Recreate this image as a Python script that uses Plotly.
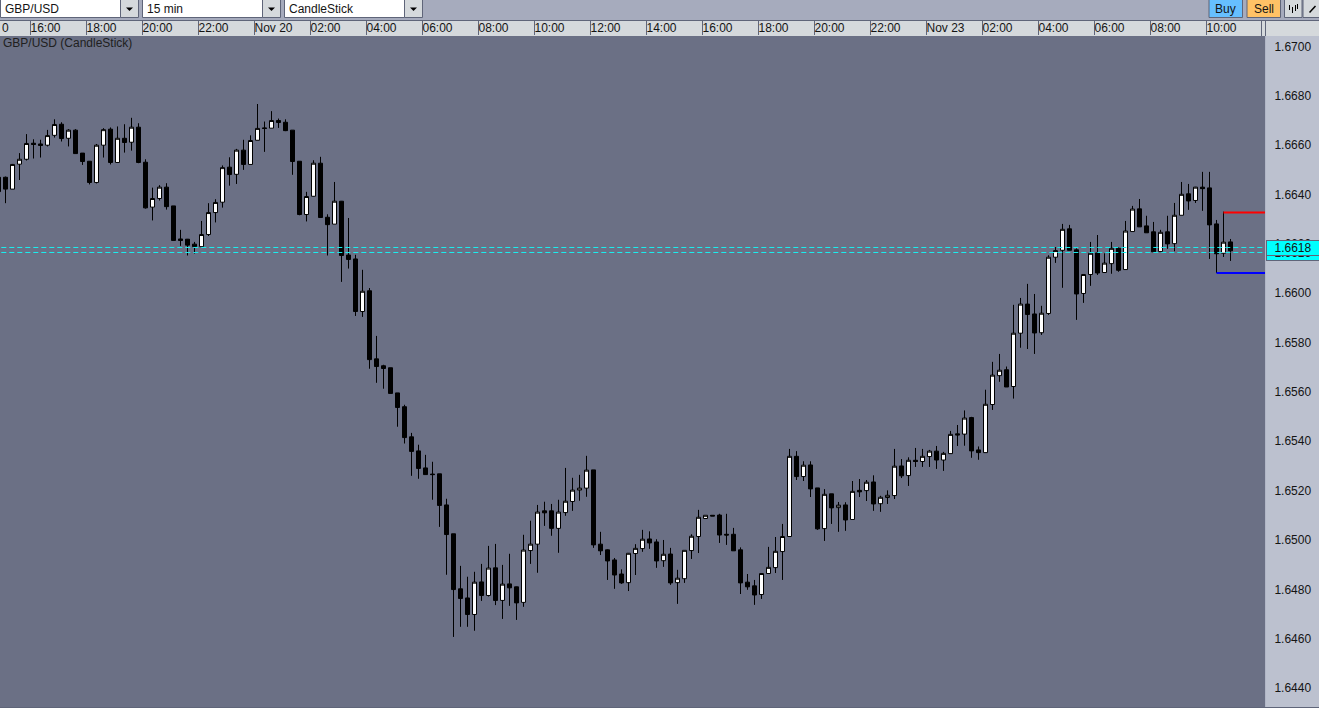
import plotly.graph_objects as go

opens = [1.66470,1.66470,1.66422,1.66523,1.66543,1.66608,1.66605,1.66600,1.66640,1.66685,1.66628,
1.66661,1.66568,1.66535,1.66449,1.66600,1.66665,1.66530,1.66628,1.66612,1.66673,
1.66531,1.66349,1.66384,1.66430,1.66354,1.66220,1.66219,1.66199,1.66189,1.66238,
1.66327,1.66369,1.66511,1.66482,1.66580,1.66522,1.66620,1.66670,1.66669,1.66700,
1.66693,1.66661,1.66535,1.66319,1.66393,1.66527,1.66308,1.66280,1.66373,1.66155,
1.66139,1.65926,1.66010,1.65734,1.65706,1.65698,1.65596,1.65540,1.65418,1.65361,
1.65292,1.65267,1.65268,1.65142,1.65025,1.64802,1.64765,1.64698,1.64830,1.64775,
1.64887,1.64755,1.64822,1.64810,1.64747,1.64957,1.64983,1.65118,1.65118,1.65047,
1.65111,1.65156,1.65202,1.65210,1.65284,1.64983,1.64960,1.64919,1.64862,1.64827,
1.64945,1.64965,1.65004,1.64992,1.64916,1.64943,1.64827,1.64843,1.64957,1.65014,
1.65087,1.65100,1.65101,1.65023,1.65023,1.64960,1.64829,1.64814,1.64779,1.64864,
1.64888,1.64953,1.65014,1.65339,1.65257,1.65304,1.65211,1.65046,1.65187,1.65131,
1.65142,1.65083,1.65201,1.65200,1.65235,1.65147,1.65172,1.65180,1.65300,1.65261,
1.65323,1.65318,1.65338,1.65360,1.65324,1.65350,1.65430,1.65429,1.65496,1.65365,
1.65354,1.65549,1.65666,1.65690,1.65622,1.65838,1.65956,1.65916,1.65840,1.65918,
1.66146,1.66174,1.66261,1.66176,1.65999,1.66076,1.66163,1.66084,1.66120,1.66182,
1.66096,1.66250,1.66342,1.66273,1.66249,1.66169,1.66249,1.66201,1.66316,1.66403,
1.66376,1.66430,1.66427,1.66281,1.66162,1.66208]

highs = [1.66473,1.66473,1.66524,1.66568,1.66645,1.66624,1.66622,1.66662,1.66705,1.66693,1.66665,
1.66665,1.66568,1.66536,1.66605,1.66669,1.66672,1.66676,1.66685,1.66711,1.66689,
1.66543,1.66428,1.66438,1.66446,1.66354,1.66257,1.66220,1.66208,1.66293,1.66365,
1.66381,1.66518,1.66551,1.66585,1.66622,1.66640,1.66767,1.66696,1.66738,1.66708,
1.66705,1.66661,1.66535,1.66411,1.66539,1.66553,1.66320,1.66451,1.66374,1.66305,
1.66156,1.66095,1.66021,1.65827,1.65710,1.65698,1.65596,1.65548,1.65434,1.65386,
1.65345,1.65317,1.65268,1.65167,1.65025,1.64895,1.64851,1.64871,1.64903,1.64976,
1.64984,1.64899,1.64944,1.64811,1.65021,1.65078,1.65142,1.65155,1.65146,1.65163,
1.65292,1.65252,1.65264,1.65341,1.65284,1.65033,1.64962,1.64927,1.64881,1.64947,
1.64983,1.65041,1.65035,1.65003,1.65000,1.64968,1.64879,1.64958,1.65023,1.65122,
1.65100,1.65100,1.65106,1.65106,1.65049,1.64970,1.64862,1.64838,1.64865,1.64972,
1.65012,1.65065,1.65369,1.65360,1.65319,1.65319,1.65211,1.65206,1.65187,1.65154,
1.65153,1.65239,1.65247,1.65243,1.65262,1.65179,1.65201,1.65369,1.65328,1.65335,
1.65373,1.65369,1.65365,1.65381,1.65357,1.65442,1.65466,1.65525,1.65499,1.65379,
1.65609,1.65722,1.65754,1.65703,1.65953,1.65981,1.66038,1.65997,1.65949,1.66154,
1.66187,1.66281,1.66277,1.66182,1.66077,1.66208,1.66236,1.66162,1.66208,1.66187,
1.66293,1.66354,1.66382,1.66314,1.66289,1.66257,1.66314,1.66366,1.66451,1.66443,
1.66431,1.66492,1.66492,1.66297,1.66331,1.66220]

lows = [1.66412,1.66365,1.66422,1.66459,1.66538,1.66546,1.66550,1.66595,1.66631,1.66615,1.66595,
1.66566,1.66520,1.66441,1.66445,1.66550,1.66522,1.66530,1.66570,1.66578,1.66527,
1.66343,1.66295,1.66376,1.66339,1.66214,1.66192,1.66153,1.66161,1.66189,1.66232,
1.66287,1.66347,1.66436,1.66443,1.66500,1.66522,1.66620,1.66573,1.66669,1.66670,
1.66657,1.66480,1.66316,1.66291,1.66392,1.66307,1.66153,1.66280,1.66046,1.66100,
1.65908,1.65904,1.65694,1.65637,1.65613,1.65594,1.65459,1.65391,1.65260,1.65248,
1.65265,1.65163,1.65053,1.64859,1.64607,1.64648,1.64648,1.64632,1.64753,1.64771,
1.64736,1.64680,1.64733,1.64676,1.64729,1.64903,1.64867,1.65057,1.65017,1.64948,
1.65098,1.65118,1.65159,1.65175,1.64968,1.64939,1.64838,1.64802,1.64822,1.64793,
1.64858,1.64952,1.64964,1.64887,1.64891,1.64818,1.64741,1.64826,1.64923,1.64947,
1.65087,1.65097,1.64988,1.64980,1.64956,1.64781,1.64798,1.64737,1.64761,1.64864,
1.64866,1.64838,1.65014,1.65243,1.65239,1.65174,1.65041,1.64996,1.65065,1.65033,
1.65037,1.65083,1.65174,1.65158,1.65118,1.65114,1.65146,1.65166,1.65251,1.65219,
1.65296,1.65296,1.65296,1.65288,1.65280,1.65350,1.65381,1.65382,1.65333,1.65325,
1.65354,1.65527,1.65641,1.65620,1.65573,1.65779,1.65774,1.65754,1.65831,1.65912,
1.66123,1.66022,1.66174,1.65892,1.65961,1.66030,1.66074,1.66084,1.66079,1.66087,
1.66096,1.66250,1.66269,1.66245,1.66168,1.66169,1.66180,1.66170,1.66316,1.66338,
1.66366,1.66334,1.66139,1.66082,1.66147,1.66131]

closes = [1.66412,1.66422,1.66522,1.66543,1.66607,1.66603,1.66599,1.66639,1.66684,1.66627,1.66661,
1.66566,1.66534,1.66449,1.66600,1.66663,1.66530,1.66628,1.66611,1.66673,1.66530,
1.66346,1.66384,1.66430,1.66351,1.66214,1.66214,1.66195,1.66189,1.66238,1.66327,
1.66368,1.66509,1.66481,1.66580,1.66522,1.66619,1.66668,1.66668,1.66700,1.66692,
1.66659,1.66534,1.66319,1.66392,1.66527,1.66307,1.66278,1.66373,1.66153,1.66137,
1.65926,1.66008,1.65731,1.65703,1.65695,1.65594,1.65537,1.65415,1.65359,1.65290,
1.65265,1.65265,1.65140,1.65022,1.64799,1.64763,1.64698,1.64829,1.64775,1.64886,
1.64755,1.64821,1.64806,1.64745,1.64959,1.64983,1.65113,1.65110,1.65047,1.65113,
1.65157,1.65202,1.65210,1.65283,1.64980,1.64956,1.64915,1.64858,1.64826,1.64946,
1.64966,1.65003,1.64988,1.64915,1.64942,1.64826,1.64845,1.64958,1.65015,1.65092,
1.65100,1.65097,1.65020,1.65020,1.64956,1.64826,1.64810,1.64777,1.64864,1.64889,
1.64954,1.65014,1.65339,1.65257,1.65303,1.65207,1.65045,1.65185,1.65130,1.65141,
1.65081,1.65197,1.65195,1.65234,1.65146,1.65173,1.65181,1.65299,1.65260,1.65323,
1.65318,1.65339,1.65360,1.65324,1.65351,1.65428,1.65426,1.65494,1.65361,1.65354,
1.65550,1.65668,1.65688,1.65620,1.65838,1.65956,1.65914,1.65839,1.65919,1.66146,
1.66173,1.66259,1.66174,1.65997,1.66076,1.66162,1.66082,1.66122,1.66182,1.66093,
1.66252,1.66341,1.66269,1.66245,1.66168,1.66247,1.66200,1.66316,1.66401,1.66374,
1.66430,1.66424,1.66277,1.66160,1.66207,1.66172]

# Axis tick texts
time_ticks = [3.5 + 8 * k for k in range(22)]
time_labels = ["16:00","18:00","20:00","22:00","Nov 20","02:00","04:00","06:00","08:00","10:00",
               "12:00","14:00","16:00","18:00","20:00","22:00","Nov 23","02:00","04:00","06:00","08:00","10:00"]
price_ticks = [1.6440,1.6460,1.6480,1.6500,1.6520,1.6540,1.6560,1.6580,1.6600,1.6620,1.6640,1.6660,1.6680,1.6700]

# Level lines
ask_level = 1.66327
bid_level = 1.66082
ref_levels = [1.661855,1.661652]

W, H, L, T, R, B = 1319, 708, 0, 36, 54, 1
PW, PH = W - L - R, H - T - B
def X(px): return (px - L) / PW
def Y(py): return 1 - (py - T) / PH

BG = "#6b7085"; PANEL = "#bcc1cf"; BAR = "#a6abbd"; STRIP = "#d5d9dc"; EDGE = "#5f6579"; INK = "#141414"
FONT = "Liberation Sans"

fig = go.Figure()
idx = list(range(-1, len(opens) - 1))
fig.add_trace(go.Candlestick(x=idx, open=opens, high=highs, low=lows, close=closes,
    increasing=dict(fillcolor="#ffffff", line=dict(color="#000000", width=1)),
    decreasing=dict(fillcolor="#000000", line=dict(color="#000000", width=1)),
    whiskerwidth=0, hoverinfo="skip"))
for lv in ref_levels:
    fig.add_trace(go.Scatter(x=[-0.6, 179.6], y=[lv, lv], mode="lines",
        line=dict(color="#19f0f0", width=1, dash="5px,3px"), hoverinfo="skip"))
fig.add_trace(go.Scatter(x=[174, 181], y=[ask_level, ask_level], mode="lines",
    line=dict(color="#ff0000", width=2), hoverinfo="skip"))
fig.add_trace(go.Scatter(x=[173, 181], y=[bid_level, bid_level], mode="lines",
    line=dict(color="#0000ff", width=2), hoverinfo="skip"))

shapes = []
def rect(x0, y0, x1, y1, fill, line=None):
    shapes.append(dict(type="rect", xref="paper", yref="paper", x0=X(x0), x1=X(x1), y0=Y(y0), y1=Y(y1),
        fillcolor=fill, line=dict(color=line or fill, width=1 if line else 0), layer="below"))
def seg(x0, y0, x1, y1, color, width=1):
    shapes.append(dict(type="line", xref="paper", yref="paper", x0=X(x0), x1=X(x1), y0=Y(y0), y1=Y(y1),
        line=dict(color=color, width=width), layer="above"))
rect(0, 0, W, 20, BAR)
seg(0, 20.5, W, 20.5, EDGE)
rect(0, 21, W, 36, STRIP)
rect(1265.5, 36, W, H, PANEL)
seg(1261.5, 21, 1261.5, 36, EDGE)
seg(1265.5, 21, 1265.5, 36, EDGE)
seg(0, 707.5, W, 707.5, EDGE)
for x0 in (0.5, 142.5, 284.5):
    rect(x0, -1, x0 + 120, 17.5, "#ffffff", EDGE)
    rect(x0 + 120, -1, x0 + 138, 17.5, STRIP, EDGE)
    cx = x0 + 129
    shapes.append(dict(type="path", xref="paper", yref="paper",
        path=f"M {X(cx-3.5)} {Y(7.5)} L {X(cx+3.5)} {Y(7.5)} L {X(cx)} {Y(11)} Z",
        fillcolor="#000000", line=dict(width=0), layer="above"))
rect(1209, -1, 1242.5, 17.5, "#66bfff", EDGE)
rect(1247, -1, 1280.5, 17.5, "#ffc266", EDGE)
rect(1284.5, -1, 1302, 17.5, STRIP, EDGE)
rect(1303, -1, 1320, 17.5, STRIP, EDGE)
seg(1309.5, 12.5, 1315.5, 6, "#000000", 1.5)
for dx, a, b in ((1289.5, 5, 10), (1292.5, 7, 13), (1295.5, 5, 11), (1297.5, 4, 9)):
    seg(dx, a, dx, b, "#000000")

ann = []
def text(s, px, py, anchor="left", size=12, **kw):
    ann.append(dict(text=s, xref="paper", yref="paper", x=X(px), y=Y(py), xanchor=anchor, yanchor="middle",
        showarrow=False, font=dict(family=FONT, size=size, color=kw.pop("color", INK)), **kw))
text("GBP/USD", 3, 8.5)
text("15 min", 145, 8.5)
text("CandleStick", 287, 8.5)
text("Buy", 1225.5, 8.5, "center")
text("Sell", 1264, 8.5, "center")
text("0", 0, 28.5)
text("GBP/USD (CandleStick)", 1, 43.5, color="#202020")
text("1.6616", 1292.5, 253, "center", width=52, height=14, bgcolor="#00ffff",
     bordercolor=EDGE, borderwidth=1, borderpad=0)
text("1.6618", 1292.5, 247.5, "center", width=52, height=14, bgcolor="#00ffff",
     bordercolor=EDGE, borderwidth=1, borderpad=0)

fig.update_layout(
    width=W, height=H, autosize=False, margin=dict(l=L, r=R, t=T, b=B, pad=0),
    paper_bgcolor=BAR, plot_bgcolor=BG, showlegend=False, shapes=shapes, annotations=ann,
    font=dict(family=FONT, size=12, color=INK), boxgap=0.4286, boxgroupgap=0,
    xaxis=dict(range=[-0.7857, 179.9286], side="top", rangeslider=dict(visible=False), showgrid=False, zeroline=False,
               tickmode="array", tickvals=time_ticks, ticktext=time_labels, ticks="outside", ticklen=15,
               tickcolor=EDGE, tickwidth=1, ticklabelposition="outside right", ticklabelstandoff=-2,
               tickfont=dict(family=FONT, size=12, color=INK), showline=False),
    yaxis=dict(range=[1.64323, 1.670426], side="right", showgrid=False, zeroline=False, tickmode="array",
               tickvals=price_ticks, tickformat=".4f", ticks="outside", ticklen=6, tickcolor="rgba(0,0,0,0)",
               tickfont=dict(family=FONT, size=12, color=INK), showline=False),
)
fig.write_html("out.html", config=dict(displayModeBar=False),
    post_script="document.body.style.margin='0';document.documentElement.style.overflow='hidden';")
